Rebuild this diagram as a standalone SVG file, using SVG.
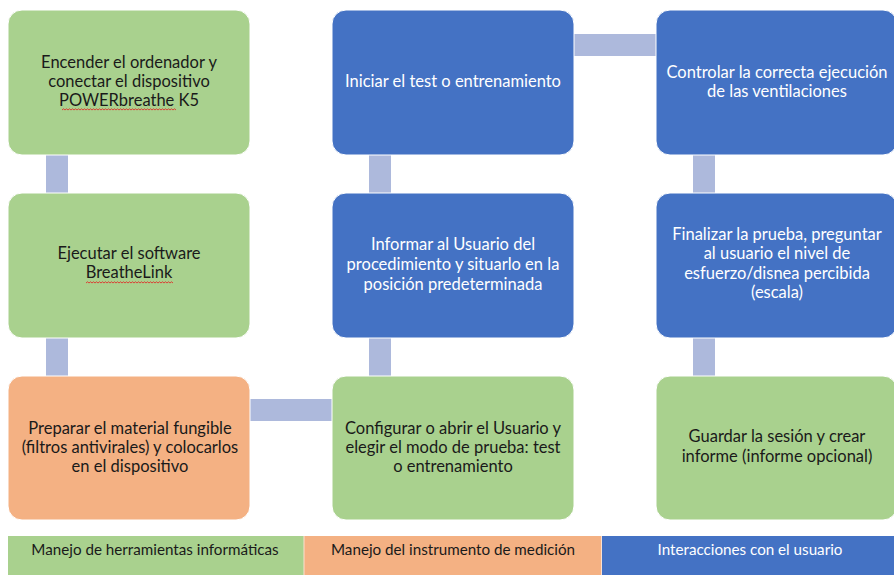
<svg xmlns="http://www.w3.org/2000/svg" width="894" height="575" viewBox="0 0 894 575">
<style>
.g{fill:#a9d18e}
.b{fill:#4472c4}
.o{fill:#f4b183}
.n rect{stroke:#ffffff;stroke-width:1}
.c{fill:#adb9dc}
.sq{fill:none;stroke:#e0302a;stroke-width:0.9}
text{font-family:Lato,"Liberation Sans",sans-serif;font-size:16.5px;text-anchor:middle}
.dk{fill:#1a1a1a}
.wt{fill:#ffffff}
.lg{font-size:15.2px}
</style>
<defs>
<pattern id="wave" x="0" y="0" width="4" height="3" patternUnits="userSpaceOnUse">
<path d="M0,2.5 L1,0.5 L2,2.5 L3,0.5 L4,2.5" fill="none" stroke="#e0302a" stroke-width="0.8"/>
</pattern>
</defs>
<rect width="894" height="575" fill="#ffffff"/>
<g id="connectors">
<rect class="c" x="46" y="155" width="22" height="38"/>
<rect class="c" x="46" y="338" width="22" height="38"/>
<rect class="c" x="250" y="399" width="82" height="22"/>
<rect class="c" x="369" y="338" width="22" height="38"/>
<rect class="c" x="369" y="155" width="22" height="38"/>
<rect class="c" x="574" y="34" width="82" height="22"/>
<rect class="c" x="693" y="155" width="22" height="38"/>
<rect class="c" x="693" y="338" width="22" height="38"/>
</g>
<g id="n1" class="n"><rect class="g" x="8" y="10" width="242" height="145" rx="14"/>
<text class="dk" x="129" y="68">Encender el ordenador y</text>
<text class="dk" x="129" y="87">conectar el dispositivo</text>
<text class="dk" x="129" y="106">POWERbreathe K5</text>
<path class="sq" d="M62,110 l1.5,-1.2 l1.5,1.2 l1.5,-1.2 l1.5,1.2 l1.5,-1.2 l1.5,1.2 l1.5,-1.2 l1.5,1.2 l1.5,-1.2 l1.5,1.2 l1.5,-1.2 l1.5,1.2 l1.5,-1.2 l1.5,1.2 l1.5,-1.2 l1.5,1.2 l1.5,-1.2 l1.5,1.2 l1.5,-1.2 l1.5,1.2 l1.5,-1.2 l1.5,1.2 l1.5,-1.2 l1.5,1.2 l1.5,-1.2 l1.5,1.2 l1.5,-1.2 l1.5,1.2 l1.5,-1.2 l1.5,1.2 l1.5,-1.2 l1.5,1.2 l1.5,-1.2 l1.5,1.2 l1.5,-1.2 l1.5,1.2 l1.5,-1.2 l1.5,1.2 l1.5,-1.2 l1.5,1.2 l1.5,-1.2 l1.5,1.2 l1.5,-1.2 l1.5,1.2 l1.5,-1.2 l1.5,1.2 l1.5,-1.2 l1.5,1.2 l1.5,-1.2 l1.5,1.2 l1.5,-1.2 l1.5,1.2 l1.5,-1.2 l1.5,1.2 l1.5,-1.2 l1.5,1.2 l1.5,-1.2 l1.5,1.2 l1.5,-1.2 l1.5,1.2 l1.5,-1.2 l1.5,1.2 l1.5,-1.2 l1.5,1.2 l1.5,-1.2 l1.5,1.2 l1.5,-1.2 l1.5,1.2 l1.5,-1.2 l1.5,1.2 l1.5,-1.2 l1.5,1.2 l1.5,-1.2 l1.5,1.2 l1.5,-1.2 l1.5,1.2"/></g>
<g id="n2" class="n"><rect class="g" x="8" y="193" width="242" height="145" rx="14"/>
<text class="dk" x="129" y="259">Ejecutar el software</text>
<text class="dk" x="129" y="278">BreatheLink</text>
<path class="sq" d="M86,283 l1.5,-1.2 l1.5,1.2 l1.5,-1.2 l1.5,1.2 l1.5,-1.2 l1.5,1.2 l1.5,-1.2 l1.5,1.2 l1.5,-1.2 l1.5,1.2 l1.5,-1.2 l1.5,1.2 l1.5,-1.2 l1.5,1.2 l1.5,-1.2 l1.5,1.2 l1.5,-1.2 l1.5,1.2 l1.5,-1.2 l1.5,1.2 l1.5,-1.2 l1.5,1.2 l1.5,-1.2 l1.5,1.2 l1.5,-1.2 l1.5,1.2 l1.5,-1.2 l1.5,1.2 l1.5,-1.2 l1.5,1.2 l1.5,-1.2 l1.5,1.2 l1.5,-1.2 l1.5,1.2 l1.5,-1.2 l1.5,1.2 l1.5,-1.2 l1.5,1.2 l1.5,-1.2 l1.5,1.2 l1.5,-1.2 l1.5,1.2 l1.5,-1.2 l1.5,1.2 l1.5,-1.2 l1.5,1.2 l1.5,-1.2 l1.5,1.2 l1.5,-1.2 l1.5,1.2 l1.5,-1.2 l1.5,1.2 l1.5,-1.2 l1.5,1.2 l1.5,-1.2 l1.5,1.2 l1.5,-1.2 l1.5,1.2"/></g>
<g id="n3" class="n"><rect class="o" x="8" y="376" width="242" height="144" rx="14"/>
<text class="dk" x="130" y="434">Preparar el material fungible</text>
<text class="dk" x="130" y="453">(filtros antivirales) y colocarlos</text>
<text class="dk" x="130" y="472">en el dispositivo</text></g>
<g id="n4" class="n"><rect class="g" x="332" y="376" width="242" height="144" rx="14"/>
<text class="dk" x="453" y="434">Configurar o abrir el Usuario y</text>
<text class="dk" x="453" y="453">elegir el modo de prueba: test</text>
<text class="dk" x="453" y="472">o entrenamiento</text></g>
<g id="n5" class="n"><rect class="b" x="332" y="193" width="242" height="145" rx="14"/>
<text class="wt" x="453" y="250">Informar al Usuario del</text>
<text class="wt" x="453" y="270">procedimiento y situarlo en la</text>
<text class="wt" x="453" y="290">posición predeterminada</text></g>
<g id="n6" class="n"><rect class="b" x="332" y="10" width="242" height="145" rx="14"/>
<text class="wt" x="453" y="87">Iniciar el test o entrenamiento</text></g>
<g id="n7" class="n"><rect class="b" x="656" y="10" width="241" height="145" rx="14"/>
<text class="wt" x="777" y="78">Controlar la correcta ejecución</text>
<text class="wt" x="777" y="97">de las ventilaciones</text></g>
<g id="n8" class="n"><rect class="b" x="656" y="193" width="241" height="145" rx="14"/>
<text class="wt" x="777" y="240">Finalizar la prueba, preguntar</text>
<text class="wt" x="777" y="259">al usuario el nivel de</text>
<text class="wt" x="777" y="279">esfuerzo/disnea percibida</text>
<text class="wt" x="777" y="298">(escala)</text></g>
<g id="n9" class="n"><rect class="g" x="656" y="376" width="241" height="144" rx="14"/>
<text class="dk" x="777" y="442">Guardar la sesión y crear</text>
<text class="dk" x="777" y="462">informe (informe opcional)</text></g>
<g id="legend">
<rect class="g" x="8" y="536" width="296" height="39"/>
<rect class="o" x="304" y="536" width="297" height="39"/>
<rect class="b" x="602" y="536" width="292" height="39"/>
<line x1="304" y1="536" x2="304" y2="575" stroke="#fbe0d0" stroke-width="1"/>
<line x1="601.5" y1="536" x2="601.5" y2="575" stroke="#fbe0d0" stroke-width="1"/>
<text class="dk lg" x="155" y="555">Manejo de herramientas informáticas</text>
<text class="dk lg" x="453" y="555">Manejo del instrumento de medición</text>
<text class="wt lg" x="750" y="555">Interacciones con el usuario</text>
</g>
</svg>
